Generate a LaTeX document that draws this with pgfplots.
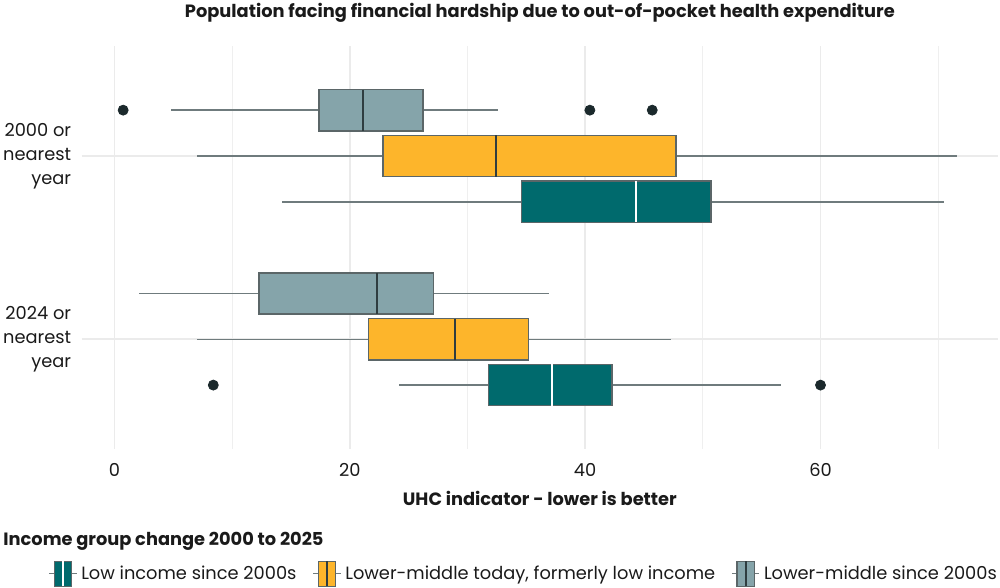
\documentclass[border=0pt]{standalone}
\usepackage{pgfplots}
\pgfplotsset{compat=1.18}
\usepgfplotslibrary{statistics}
\usepackage{fontspec}
\setmainfont{Poppins}

\definecolor{tealc}{HTML}{006A6D}
\definecolor{orangec}{HTML}{FDB52B}
\definecolor{grayc}{HTML}{85A4AA}
\definecolor{edgec}{HTML}{5B6668}
\definecolor{whiskc}{HTML}{6F7B7D}
\definecolor{medc}{HTML}{2F3D40}
\definecolor{dotc}{HTML}{1B292C}
\definecolor{gridc}{HTML}{EBEBEB}
\definecolor{txtc}{HTML}{1A1A1A}

\pgfplotsset{
  every axis title shift=0pt,
  bx/.style 2 args={
    boxplot/draw direction=x,
    boxplot/box extend=0.225,
    boxplot/whisker extend=0,
    boxplot/every box/.style={draw=edgec, fill=#1, line width=0.75pt},
    boxplot/every whisker/.style={draw=whiskc, line width=0.75pt},
    boxplot/every median/.style={draw=#2, line width=1pt},
    mark=none,
    legend image code/.code={
      \draw[whiskc, line width=0.6pt] (0pt,0pt) -- (13.8pt,0pt);
      \draw[edgec, fill=#1, line width=0.6pt] (2.6pt,-6.25pt) rectangle (11.3pt,6.25pt);
      \draw[#2, line width=0.8pt] (6.95pt,-6.25pt) -- (6.95pt,6.25pt);
    },
  },
}

\begin{document}
\begin{tikzpicture}
\begin{axis}[
  name=ax,
  scale only axis,
  width=458.3pt, height=201.6pt,
  xmin=-2.8, xmax=75.1,
  ymin=0.4, ymax=2.6,
  y dir=reverse,
  xtick={0,20,40,60},
  minor xtick={10,30,50,70},
  ytick={1,2},
  yticklabels={{2000 or\\nearest\\year},{2024 or\\nearest\\year}},
  grid=both,
  major grid style={draw=gridc, line width=0.8pt},
  minor grid style={draw=gridc!80!white, line width=0.55pt},
  axis line style={draw=none},
  tick style={draw=none},
  major tick length=0pt, minor tick length=0pt,
  /pgf/number format/assume math mode=true,
  tick label style={font=\fontsize{8.9}{12}\selectfont, text=txtc},
  xticklabel style={yshift=-3.5pt},
  yticklabel style={align=right, inner sep=0pt, xshift=-5pt},
  xlabel={\bfseries UHC indicator - lower is better},
  xlabel style={at={(axis description cs:0.5,-0.123)}, anchor=center, font=\fontsize{8.9}{10}\selectfont, text=txtc},
  title={\bfseries Population facing financial hardship due to out-of-pocket health expenditure},
  title style={at={(axis description cs:0.5,1.082)}, anchor=center, font=\fontsize{8.9}{10}\selectfont, text=txtc},
  legend columns=3,
  legend cell align=left,
  legend style={at={(axis description cs:-0.0365,-0.309)}, anchor=west, draw=none, fill=none,
    inner sep=0pt, font=\fontsize{8.9}{10}\selectfont, text=txtc,
    /tikz/every even column/.append style={column sep=6pt}},
]
% 2000 or nearest year
\addplot[boxplot prepared={draw position=1.25, lower whisker=14.2, lower quartile=34.6,
  median=44.3, upper quartile=50.7, upper whisker=70.5}, bx={tealc}{white}] coordinates {};
\addlegendentry{Low income since 2000s}
\addplot[boxplot prepared={draw position=1, lower whisker=7.0, lower quartile=22.8,
  median=32.4, upper quartile=47.7, upper whisker=71.6}, bx={orangec}{medc}] coordinates {};
\addlegendentry{Lower-middle today, formerly low income}
\addplot[boxplot prepared={draw position=0.75, lower whisker=4.8, lower quartile=17.4,
  median=21.1, upper quartile=26.2, upper whisker=32.6}, bx={grayc}{medc}] coordinates {};
\addlegendentry{Lower-middle since 2000s}
% 2024 or nearest year
\addplot[forget plot, boxplot prepared={draw position=2.25, lower whisker=24.2, lower quartile=31.8,
  median=37.2, upper quartile=42.3, upper whisker=56.6}, bx={tealc}{white}] coordinates {};
\addplot[forget plot, boxplot prepared={draw position=2, lower whisker=7.0, lower quartile=21.6,
  median=28.9, upper quartile=35.2, upper whisker=47.3}, bx={orangec}{medc}] coordinates {};
\addplot[forget plot, boxplot prepared={draw position=1.75, lower whisker=2.1, lower quartile=12.3,
  median=22.3, upper quartile=27.1, upper whisker=36.9}, bx={grayc}{medc}] coordinates {};
% outliers
\addplot[forget plot, only marks, mark=*, mark size=2.5pt, draw=dotc, fill=dotc]
  coordinates {(0.74,0.75) (40.4,0.75) (45.7,0.75) (8.4,2.25) (60.0,2.25)};
\end{axis}
\node[anchor=west, font=\fontsize{8.9}{10}\selectfont\bfseries, text=txtc, inner sep=0pt]
  at ([xshift=-39.25pt,yshift=-45.85pt]ax.south west) {Income group change 2000 to 2025};
\pgfresetboundingbox
\path ([xshift=-40.75pt,yshift=23pt]ax.north west) rectangle ([xshift=0.9pt,yshift=-69.35pt]ax.south east);
\end{tikzpicture}
\end{document}
